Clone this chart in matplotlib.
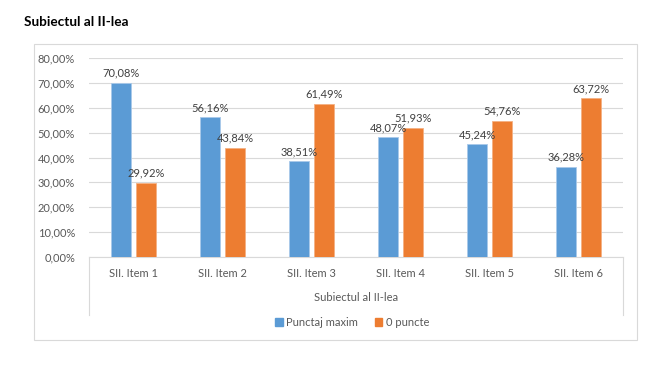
import matplotlib
matplotlib.use("Agg")
import matplotlib.pyplot as plt
from matplotlib.patches import Rectangle
import numpy as np

categories = ["SII. Item 1", "SII. Item 2", "SII. Item 3", "SII. Item 4", "SII. Item 5", "SII. Item 6"]
punctaj_maxim = [70.08, 56.16, 38.51, 48.07, 45.24, 36.28]
zero_puncte = [29.92, 43.84, 61.49, 51.93, 54.76, 63.72]
series_names = ["Punctaj maxim", "0 puncte"]
yticks = [0, 10, 20, 30, 40, 50, 60, 70, 80]
title = "Subiectul al II-lea"
group_label = "Subiectul al II-lea"

plt.rcParams['font.family'] = ['Lato', 'DejaVu Sans']
W, H = 654, 372
fig = plt.figure(figsize=(W / 100, H / 100), dpi=100)
fig.patch.set_facecolor("white")

def fx(px):
    return px / W

def fy(py):
    return 1 - py / H

FS = 8

# outer chart frame
fig.patches.append(Rectangle((fx(34), fy(340)), fx(637) - fx(34), fy(44) - fy(340),
                             transform=fig.transFigure, fill=False, edgecolor="#D9D9D9", linewidth=0.8))
fig.text(fx(24), fy(22), title, fontsize=9.8, fontweight="bold", ha="left", va="center", color="black")

left, right, top, bottom = 89, 623, 58, 257
ax = fig.add_axes([fx(left), fy(bottom), fx(right) - fx(left), fy(top) - fy(bottom)])
x = np.arange(len(categories))
bw = 0.215
off = 0.141
c1, c2 = "#5B9BD5", "#ED7D31"
b1 = ax.bar(x - off, punctaj_maxim, bw, color=c1, edgecolor="#A9C9EA", linewidth=0.6, zorder=3)
b2 = ax.bar(x + off, zero_puncte, bw, color=c2, edgecolor="#F4B183", linewidth=0.6, zorder=3)
ax.set_xlim(-0.5, len(categories) - 0.5)
ax.set_ylim(0, 80)
ax.set_yticks(yticks)
ax.set_yticklabels([f"{v:.2f}%".replace(".", ",") for v in yticks], fontsize=FS, color="#595959")
ax.tick_params(axis="y", length=0, pad=10)
ax.set_xticks([])
ax.grid(axis="y", color="#D9D9D9", linewidth=0.8, zorder=0)
for s in ["top", "right", "left"]:
    ax.spines[s].set_visible(False)
ax.spines["bottom"].set_color("#D9D9D9")
ax.spines["bottom"].set_linewidth(0.8)

for bars, vals in [(b1, punctaj_maxim), (b2, zero_puncte)]:
    for r, v in zip(bars, vals):
        ax.annotate(f"{v:.2f}%".replace(".", ","), (r.get_x() + r.get_width() / 2, v),
                    xytext=(0, 3), textcoords="offset points", ha="center", va="bottom",
                    fontsize=FS, color="#404040")

# multi-level category axis
for i, c in enumerate(categories):
    ax.text(i, -6.7, c, ha="center", va="center", fontsize=FS, color="#595959", clip_on=False)
ax.text((len(categories) - 1) / 2, -16.2, group_label, ha="center", va="center",
        fontsize=FS, color="#595959", clip_on=False)
for xp in [-0.5, len(categories) - 0.5]:
    ax.plot([xp, xp], [0, -23.5], color="#D9D9D9", linewidth=0.8, clip_on=False)

# legend
handles = [Rectangle((0, 0), 1, 1, color=c1), Rectangle((0, 0), 1, 1, color=c2)]
fig.legend(handles, series_names, loc="center", bbox_to_anchor=(fx(352), fy(322)), ncol=2,
           frameon=False, fontsize=FS, handlelength=0.7, handleheight=0.7, handletextpad=0.3,
           columnspacing=1.5, labelcolor="#595959")

fig.savefig("out.png", dpi=100, facecolor="white")
